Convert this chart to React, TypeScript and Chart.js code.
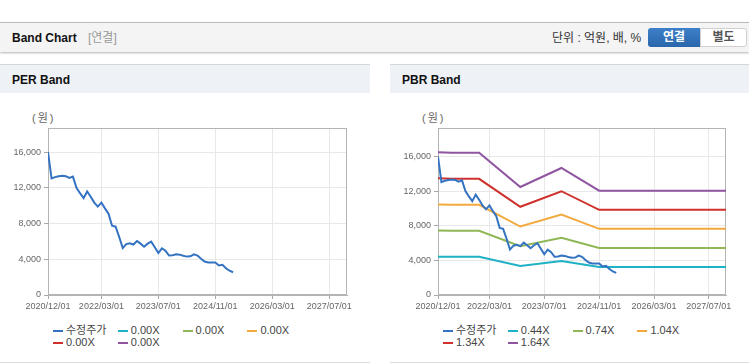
import React, { useEffect, useRef } from 'react';
import { Chart, registerables } from 'chart.js';

Chart.register(...registerables);

const FONT = "'Liberation Sans', 'Noto Sans CJK KR', sans-serif";

// x axis: months since 2020/12/01
const xMin = 0;
const xMax = 84;
const tickMonths = [0, 15, 31, 47, 63, 79];
const tickLabels = ['2020/12/01', '2022/03/01', '2023/07/01', '2024/11/01', '2026/03/01', '2027/07/01'];
const yTickValues = [0, 4000, 8000, 12000, 16000];

// monthly adjusted close (수정주가), starting 2020/12
const price = [
  16000, 13050, 13200, 13300, 13350, 13300, 13100, 13250, 12000, 11400,
  10850, 11600, 11000, 10350, 9900, 10350, 9700, 9100, 7750, 7650,
  6500, 5250, 5700, 5800, 5650, 6050, 5750, 5400, 5750, 5980,
  5350, 4700, 5230, 4950, 4420, 4450, 4550, 4520, 4400, 4300,
  4330, 4560, 4420, 4050, 3750, 3650, 3640, 3630, 3300, 3380,
  3000, 2720, 2550,
];

// PBR band break points (months since 2020/12)
const bandMonths = [0, 4, 12, 24, 36, 47, 84];
const pbr044 = [4426, 4409, 4409, 3348, 3938, 3234, 3234];
const pbr074 = [7444, 7415, 7415, 5631, 6623, 5439, 5439];
const pbr104 = [10462, 10421, 10421, 7914, 9308, 7644, 7644];
const pbr134 = [13480, 13427, 13427, 10197, 11993, 9849, 9849];
const pbr164 = [16498, 16433, 16433, 12480, 14678, 12054, 12054];

const perLabels = ['수정주가', '0.00X', '0.00X', '0.00X', '0.00X', '0.00X'];
const pbrLabels = ['수정주가', '0.44X', '0.74X', '1.04X', '1.34X', '1.64X'];
const seriesColors = ['#3473c2', '#1fb1c6', '#8fb755', '#f2aa3e', '#cf312c', '#8f55a0'];

const perYMax = 18700;
const pbrYMax = 19300;

const plotBorder = {
  id: 'plotBorder',
  beforeDatasetsDraw(chart: any) {
    const { ctx, chartArea: a } = chart;
    ctx.save();
    ctx.strokeStyle = '#b4b4b4';
    ctx.lineWidth = 1;
    ctx.strokeRect(Math.round(a.left) + 0.5, Math.round(a.top) + 0.5, Math.round(a.right - a.left) - 1, Math.round(a.bottom - a.top) - 1);
    ctx.restore();
  },
};

function BandChart(props: { width: number; yMax: number; bands: number[][] | null }) {
  const ref = useRef<HTMLCanvasElement>(null);
  useEffect(() => {
    const datasets: any[] = [
      {
        data: price.map((v, i) => ({ x: i, y: v })),
        borderColor: seriesColors[0],
        borderWidth: 2,
        pointRadius: 0,
        fill: false,
        order: 0,
      },
    ];
    if (props.bands) {
      props.bands.forEach((b, k) => {
        datasets.push({
          data: b.map((v, i) => ({ x: bandMonths[i], y: v })),
          borderColor: seriesColors[k + 1],
          borderWidth: 2,
          pointRadius: 0,
          fill: false,
          order: 1,
        });
      });
    }
    const chart = new Chart(ref.current as HTMLCanvasElement, {
      type: 'line',
      data: { datasets },
      plugins: [plotBorder],
      options: {
        animation: false,
        responsive: false,
        devicePixelRatio: 1,
        layout: { padding: { top: 35, right: 23, left: 0, bottom: 0 } },
        plugins: { legend: { display: false }, tooltip: { enabled: false } },
        scales: {
          x: {
            type: 'linear',
            min: xMin,
            max: xMax,
            afterBuildTicks: (scale: any) => {
              scale.ticks = tickMonths.map((v) => ({ value: v }));
            },
            afterFit: (scale: any) => {
              scale.height = 20;
            },
            ticks: {
              autoSkip: false,
              maxRotation: 0,
              padding: 2,
              color: '#666',
              font: { family: FONT, size: 9 },
              callback: (_v: any, i: number) => tickLabels[i],
            },
            grid: { color: '#e8e8e8', tickColor: '#a8a8a8', tickLength: 4 },
            border: { color: '#b4b4b4' },
          },
          y: {
            min: 0,
            max: props.yMax,
            afterBuildTicks: (scale: any) => {
              scale.ticks = yTickValues.map((v) => ({ value: v }));
            },
            afterFit: (scale: any) => {
              scale.width = 48;
            },
            ticks: {
              autoSkip: false,
              padding: 3,
              color: '#666',
              font: { family: FONT, size: 9 },
              callback: (v: any) => Number(v).toLocaleString('en-US'),
            },
            grid: { color: '#e8e8e8', tickColor: '#a8a8a8', tickLength: 4 },
            border: { color: '#b4b4b4' },
          },
        },
      } as any,
    });
    return () => chart.destroy();
  }, []);
  return <canvas ref={ref} width={props.width} height={222} style={{ display: 'block', width: props.width, height: 222 }} />;
}

function Legend(props: { labels: string[] }) {
  return (
    <div style={{ position: 'absolute', left: 0, top: 324, width: '100%', height: 26 }}>
      {props.labels.map((l, i) => {
        const col = i % 4;
        const row = Math.floor(i / 4);
        return (
          <div
            key={i}
            style={{
              position: 'absolute',
              left: 53 + col * 64.8,
              top: row * 12.4,
              height: 13,
              display: 'flex',
              alignItems: 'center',
              whiteSpace: 'nowrap',
            }}
          >
            <span style={{ display: 'inline-block', width: 10, height: 2, background: seriesColors[i], marginRight: 3 }} />
            <span style={{ fontSize: 11, color: '#444', lineHeight: '13px' }}>{l}</span>
          </div>
        );
      })}
    </div>
  );
}

function Panel(props: { left: number; width: number; title: string; yMax: number; bands: number[][] | null; labels: string[] }) {
  return (
    <div style={{ position: 'absolute', left: props.left, top: 0, width: props.width, height: 364 }}>
      <div style={{ position: 'absolute', left: 0, top: 64, width: props.width, height: 1, background: '#d6d6d6' }} />
      <div style={{ position: 'absolute', left: 0, top: 65, width: props.width, height: 28, background: '#eef2f7' }} />
      <div style={{ position: 'absolute', left: 12, top: 72, fontSize: 12, fontWeight: 'bold', color: '#111', lineHeight: '16px' }}>{props.title}</div>
      <div style={{ position: 'absolute', left: 32, top: 110, fontSize: 11, color: '#666', lineHeight: '16px', letterSpacing: 2 }}>(원)</div>
      <div style={{ position: 'absolute', left: 0, top: 93 }}>
        <BandChart width={props.width} yMax={props.yMax} bands={props.bands} />
      </div>
      <Legend labels={props.labels} />
      <div style={{ position: 'absolute', left: 0, top: 362, width: props.width, height: 1, background: '#dcdcdc' }} />
    </div>
  );
}

export default function App() {
  return (
    <div style={{ position: 'absolute', left: 0, top: 0, width: 749, height: 364, background: '#fff', fontFamily: FONT, overflow: 'hidden' }}>
      <div style={{ position: 'absolute', left: 0, top: 22, width: 749, height: 1, background: '#bdbdbd' }} />
      <div style={{ position: 'absolute', left: 0, top: 23, width: 749, height: 29, background: '#f4f4f4', boxShadow: '0 1px 2px rgba(0,0,0,0.3)' }} />
      <div style={{ position: 'absolute', left: 12, top: 30, fontSize: 12, fontWeight: 'bold', color: '#111', lineHeight: '16px' }}>Band Chart</div>
      <div style={{ position: 'absolute', left: 88, top: 30, fontSize: 12, color: '#999', lineHeight: '16px' }}>[연결]</div>
      <div style={{ position: 'absolute', left: 552, top: 30, fontSize: 12, color: '#333', lineHeight: '16px' }}>단위 : 억원, 배, %</div>
      <div style={{ position: 'absolute', left: 648, top: 28, width: 52, height: 19, background: 'linear-gradient(#3d80c9, #2a66ab)', borderRadius: '3px 0 0 3px', color: '#fff', fontSize: 12, fontWeight: 'bold', textAlign: 'center', lineHeight: '19px' }}>연결</div>
      <div style={{ position: 'absolute', left: 700, top: 28, width: 45, height: 17, background: '#fff', border: '1px solid #cfcfcf', borderRadius: '0 3px 3px 0', color: '#555', fontSize: 12, fontWeight: 'bold', textAlign: 'center', lineHeight: '17px' }}>별도</div>
      <Panel left={0} width={370} title="PER Band" yMax={perYMax} bands={null} labels={perLabels} />
      <Panel left={390} width={359} title="PBR Band" yMax={pbrYMax} bands={[pbr044, pbr074, pbr104, pbr134, pbr164]} labels={pbrLabels} />
    </div>
  );
}
